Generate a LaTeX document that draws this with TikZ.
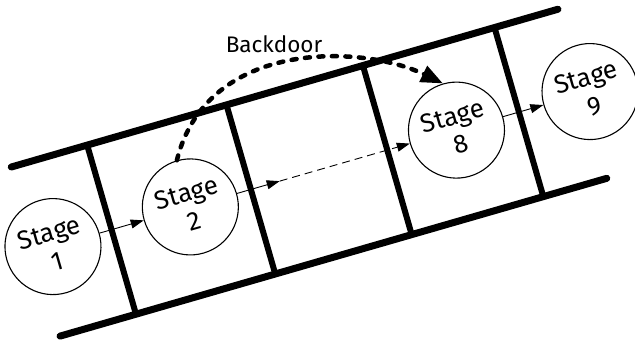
\documentclass[tikz,border=0pt]{standalone}
\usepackage{fontspec}
\setmainfont{Fira Sans}
\usetikzlibrary{arrows.meta}
\begin{document}
\begin{tikzpicture}[x=1pt,y=1pt,
  rail/.style={line width=7pt, line cap=round},
  rung/.style={line width=6pt},
  stagenode/.style={circle, draw, line width=1.1pt, fill=white,
    minimum size=96pt, inner sep=0pt, align=center,
    font=\fontsize{26}{29.5}\selectfont},
  flow/.style={line width=0.9pt, -{Triangle[length=13pt,width=9pt]}},
  skipflow/.style={flow, dash pattern=on 8pt off 5pt},
  backdoor/.style={line width=4.5pt, line cap=round,
    dash pattern=on 5pt off 8.5pt,
    -{Triangle[length=22pt,width=17pt]}},
  label/.style={font=\fontsize{22.5}{25}\selectfont}
]
\useasboundingbox (0,0) rectangle (635,-344);

% the pipeline, drawn along its own tilted axis
\begin{scope}[shift={(88,-148)}, rotate=16.1, transform shape]
  % rails
  \draw[rail] (-79,3) -- (490,3);
  \draw[rail] (-79,-173) -- (490,-173);
  % rungs
  \foreach \u in {0,145,287,424}
    \draw[rung] (\u,3) -- (\u,-173);

  % stages
  \node[stagenode] (s1) at (-61,-85) {Stage\\1};
  \node[stagenode] (s2) at (82,-85)  {Stage\\2};
  \node[stagenode] (s8) at (359,-85) {Stage\\8};
  \node[stagenode] (s9) at (498,-85) {Stage\\9};
  \coordinate (skip) at (175,-85);

  % flow between stages
  \draw[flow] (s1) -- (s2);
  \draw[flow] (s2) -- (skip);
  \draw[skipflow] (skip) -- (s8);
  \draw[flow] (s8) -- (s9);

  % the shortcut over the rail
  \draw[backdoor] (s2.north) .. controls +(60:125) and +(138:90) .. (s8.north);
\end{scope}

\node[label] (bd) at (274,-44) {Backdoor};
\end{tikzpicture}
\end{document}
